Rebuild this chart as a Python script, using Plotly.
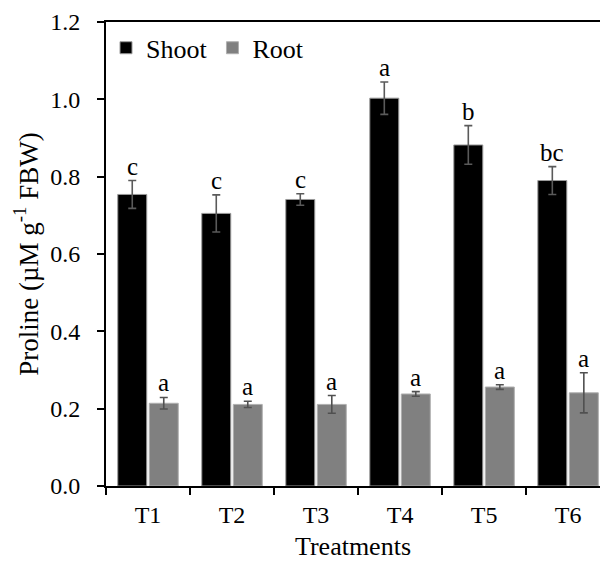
import plotly.graph_objects as go

treatments = ["T1", "T2", "T3", "T4", "T5", "T6"]
shoot = [0.754, 0.705, 0.741, 1.003, 0.882, 0.790]
shoot_err = [0.036, 0.048, 0.015, 0.042, 0.050, 0.036]
root = [0.214, 0.211, 0.211, 0.238, 0.256, 0.241]
root_err = [0.015, 0.008, 0.023, 0.006, 0.006, 0.052]
shoot_letters = ["c", "c", "c", "a", "b", "bc"]
root_letters = ["a", "a", "a", "a", "a", "a"]

FONT = "Liberation Serif"

fig = go.Figure()
fig.add_trace(go.Bar(
    name="Shoot", x=treatments, y=shoot,
    marker=dict(color="#000000", line=dict(color="#9a9a9a", width=1)),
    error_y=dict(type="data", array=shoot_err, color="#5a5a5a", thickness=1.6, width=4),
))
fig.add_trace(go.Bar(
    name="Root", x=treatments, y=root,
    marker=dict(color="#808080", line=dict(color="#b0b0b0", width=1)),
    error_y=dict(type="data", array=root_err, color="#505050", thickness=1.6, width=4),
))

half = 0.75 / 4
for i, t in enumerate(treatments):
    fig.add_annotation(x=i - half, y=shoot[i] + shoot_err[i], text=shoot_letters[i],
                       xref="x", yref="y", showarrow=False, yanchor="bottom", yshift=-1,
                       font=dict(family=FONT, size=25, color="black"))
    fig.add_annotation(x=i + half, y=root[i] + root_err[i], text=root_letters[i],
                       xref="x", yref="y", showarrow=False, yanchor="bottom", yshift=-1,
                       font=dict(family=FONT, size=25, color="black"))

fig.update_layout(
    width=600, height=565,
    margin=dict(l=106, r=0, t=22, b=79),
    paper_bgcolor="white", plot_bgcolor="white",
    barmode="group", bargap=0.25, bargroupgap=0.08,
    font=dict(family=FONT, size=24, color="black"),
    showlegend=True,
    legend=dict(orientation="h", x=0.0, y=0.995, xanchor="left", yanchor="top",
                font=dict(family=FONT, size=26, color="black"),
                bgcolor="rgba(0,0,0,0)", itemwidth=30, tracegroupgap=0),
    xaxis=dict(
        type="category", range=[-0.5, 5.38],
        showline=True, linecolor="black", linewidth=2, mirror=True,
        ticks="outside", tickson="boundaries", ticklen=7, tickwidth=2, tickcolor="black",
        ticklabelstandoff=6,
        showgrid=False, tickfont=dict(family=FONT, size=24, color="black"),
        title=dict(text="Treatments", font=dict(family=FONT, size=26, color="black"), standoff=10),
    ),
    yaxis=dict(
        range=[0, 1.2], dtick=0.2, tickformat=".1f",
        showline=True, linecolor="black", linewidth=2,
        ticks="outside", ticklen=7, tickwidth=2, tickcolor="black",
        ticklabelstandoff=12,
        showgrid=False, zeroline=False,
        tickfont=dict(family=FONT, size=24, color="black"),
        title=dict(text="Proline (µM g<sup>-1</sup> FBW)", font=dict(family=FONT, size=27, color="black"), standoff=4),
    ),
)

fig.write_html("out.html")
